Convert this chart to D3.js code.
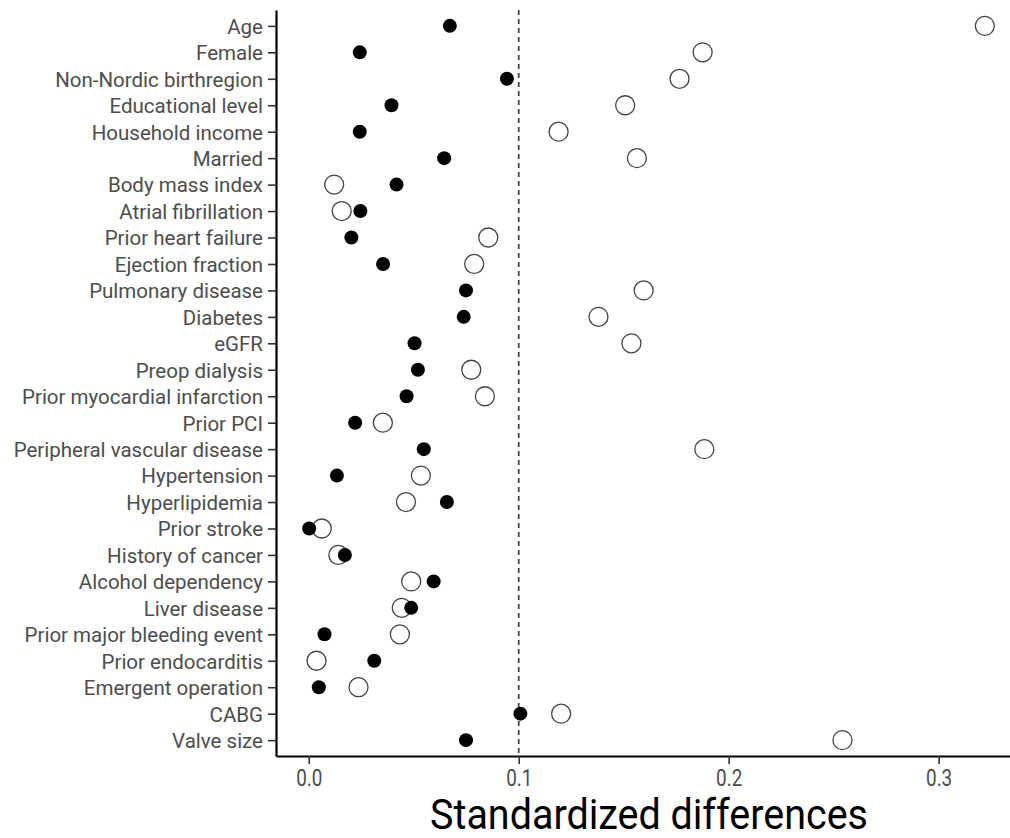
<!DOCTYPE html>
<html>
<head>
<meta charset="utf-8">
<script src="https://cdn.jsdelivr.net/npm/d3@7"></script>
<style>
  body { margin: 0; background: #fff; }
  svg text { font-family: Roboto, "Noto Sans", sans-serif; }
</style>
</head>
<body>
<div id="chart"></div>
<script>
// Variables (top to bottom)
const variables = ['Age','Female','Non-Nordic birthregion','Educational level','Household income','Married',
  'Body mass index','Atrial fibrillation','Prior heart failure','Ejection fraction','Pulmonary disease','Diabetes',
  'eGFR','Preop dialysis','Prior myocardial infarction','Prior PCI','Peripheral vascular disease','Hypertension',
  'Hyperlipidemia','Prior stroke','History of cancer','Alcohol dependency','Liver disease','Prior major bleeding event',
  'Prior endocarditis','Emergent operation','CABG','Valve size'];

// Standardized differences, unadjusted (open) and adjusted (filled)
const unadjusted = [0.322,0.1876,0.1766,0.1507,0.119,0.1563,0.0121,0.0157,0.0855,0.0788,0.1595,0.138,
  0.1537,0.0774,0.0839,0.0353,0.1884,0.0534,0.0463,0.0062,0.0141,0.0488,0.0443,0.0434,0.0037,0.0237,0.1202,0.2542];
const adjusted = [0.0672,0.0243,0.0944,0.0394,0.0243,0.0645,0.0418,0.0246,0.0203,0.0354,0.0749,0.0738,
  0.0504,0.052,0.0466,0.0221,0.0548,0.0134,0.0658,0.0002,0.0172,0.0595,0.0488,0.0075,0.0312,0.0048,0.1008,0.0749];

const xTicks = [0, 0.1, 0.2, 0.3];
const threshold = 0.1;
const xTitle = 'Standardized differences';

const W = 1010, H = 838;
const margin = {top: 10, right: 0, bottom: 82, left: 276};

let svg = d3.select('#chart').append('svg')
  .attr('width', W).attr('height', H);

let x = d3.scaleLinear()
  .domain([-0.0156, 0.334])
  .range([margin.left, W - margin.right]);

let y = d3.scalePoint()
  .domain(variables)
  .range([margin.top, H - margin.bottom])
  .padding(0.6);

// Eje Y
let yAxis = svg.append('g')
  .attr('transform', 'translate(' + margin.left + ',0)')
  .call(d3.axisLeft(y).tickSize(8).tickSizeOuter(0).tickPadding(5));
yAxis.select('.domain').attr('stroke', '#000').attr('stroke-width', 2.2);
yAxis.selectAll('.tick line').attr('stroke', '#333').attr('stroke-width', 1.6);
yAxis.selectAll('.tick text')
  .attr('fill', '#4d4d4d').attr('font-size', 20.5)
  .attr('dy', '0.36em');

// Eje X
let xAxis = svg.append('g')
  .attr('transform', 'translate(0,' + (H - margin.bottom) + ')')
  .call(d3.axisBottom(x).tickValues(xTicks).tickFormat(d3.format('.1f')).tickSize(8).tickSizeOuter(0).tickPadding(6));
xAxis.select('.domain').attr('stroke', '#000').attr('stroke-width', 2.2);
xAxis.selectAll('.tick line').attr('stroke', '#333').attr('stroke-width', 1.6);
xAxis.selectAll('.tick text')
  .attr('fill', '#4d4d4d').attr('font-size', 23)
  .attr('y', 0).attr('dy', null)
  .attr('transform', 'translate(0,30) scale(0.82,1)');

// Linea de referencia
svg.append('line')
  .attr('x1', x(threshold)).attr('x2', x(threshold))
  .attr('y1', margin.top).attr('y2', H - margin.bottom)
  .attr('stroke', '#444').attr('stroke-width', 1.8)
  .attr('stroke-dasharray', '5,4');

// Puntos
let rows = variables.map(function(v, i) { return {name: v, un: unadjusted[i], adj: adjusted[i]}; });

svg.append('g').selectAll('circle')
  .data(rows).enter().append('circle')
  .attr('cx', function(d) { return x(d.un); })
  .attr('cy', function(d) { return y(d.name); })
  .attr('r', 9.5)
  .attr('fill', 'none')
  .attr('stroke', '#444')
  .attr('stroke-width', 1.3);

svg.append('g').selectAll('circle')
  .data(rows).enter().append('circle')
  .attr('cx', function(d) { return x(d.adj); })
  .attr('cy', function(d) { return y(d.name); })
  .attr('r', 7)
  .attr('fill', '#000');

// Titulo eje X
const tSq = 0.94;
svg.append('text')
  .attr('x', 0).attr('y', 0)
  .attr('text-anchor', 'middle')
  .attr('font-size', 42)
  .attr('fill', '#000')
  .attr('transform', 'translate(649,829) scale(' + tSq + ',1)')
  .text(xTitle);
</script>
</body>
</html>
